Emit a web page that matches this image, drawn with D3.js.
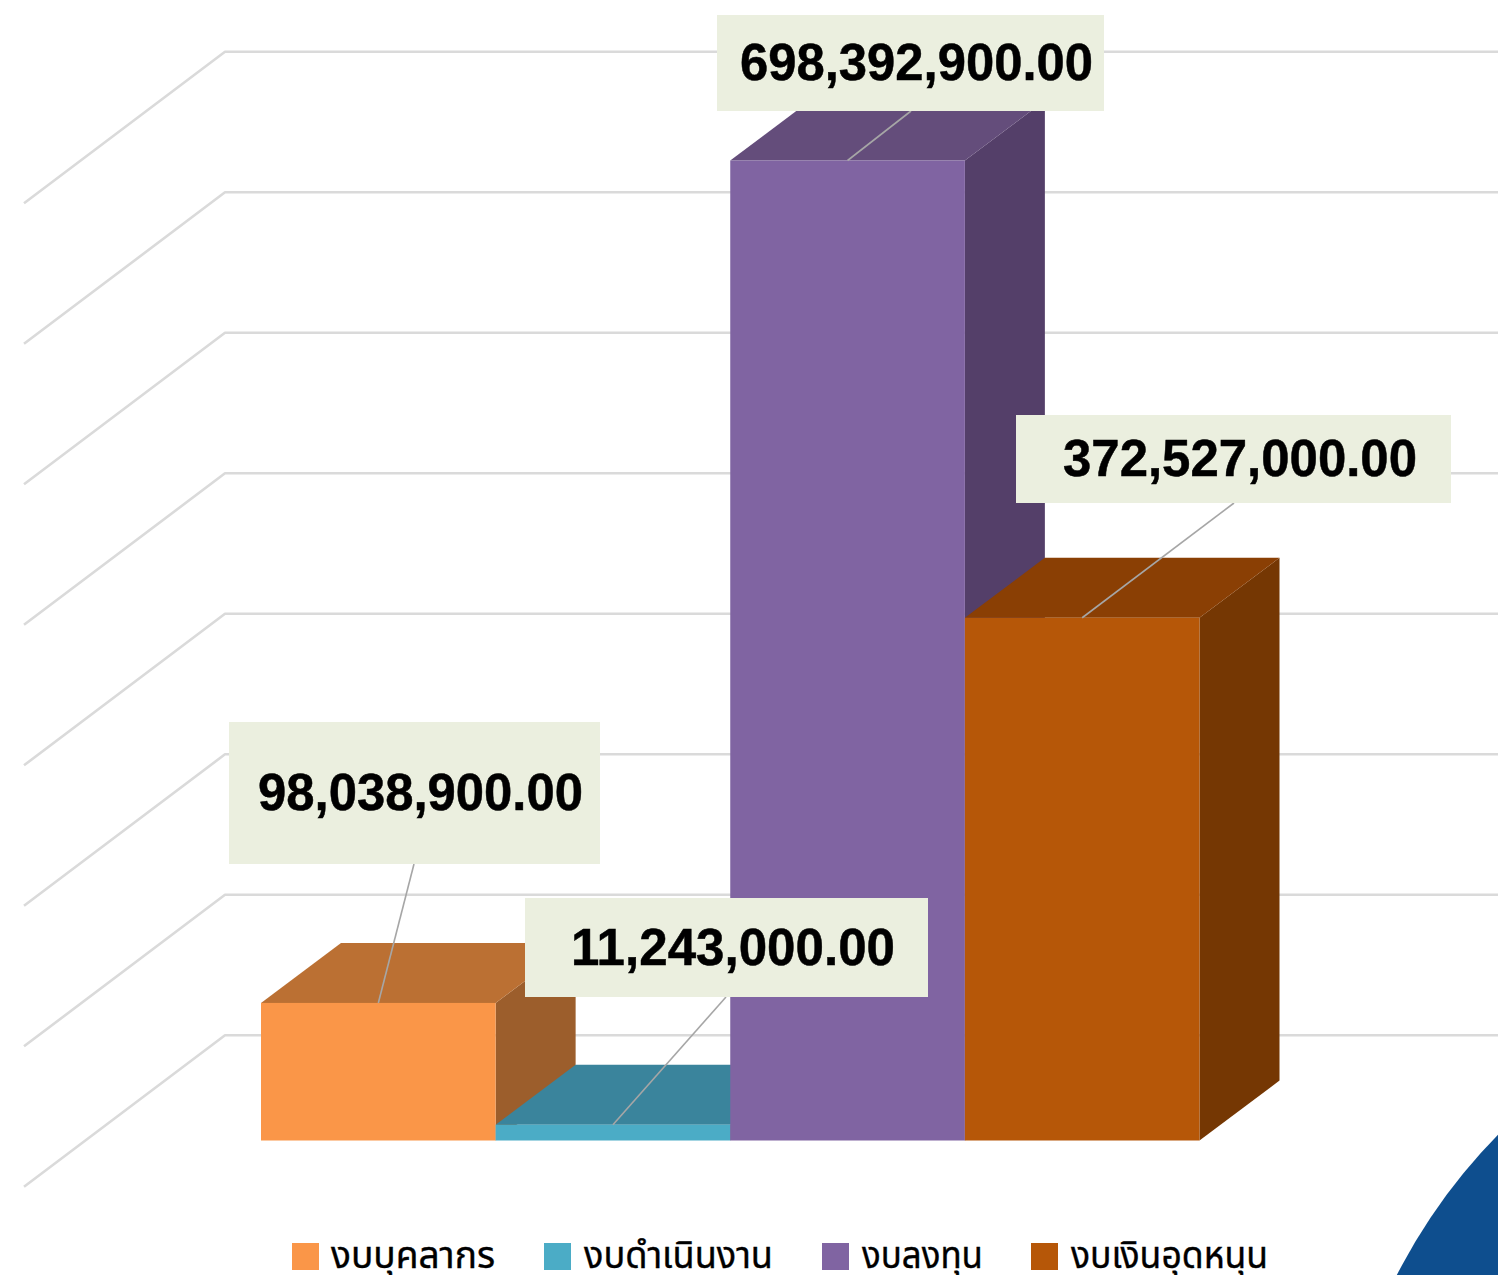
<!DOCTYPE html>
<html><head><meta charset="utf-8">
<script src="https://cdnjs.cloudflare.com/ajax/libs/d3/7.8.5/d3.min.js"></script>
<style>html,body{margin:0;padding:0;background:#fff;overflow:hidden}svg{display:block}</style>
</head><body><svg id="c" width="1498" height="1275"></svg>
<script>
const categories = ["งบบุคลากร","งบดำเนินงาน","งบลงทุน","งบเงินอุดหนุน"];
const values = [98038900, 11243000, 698392900, 372527000];
const gridTicks = [100e6,200e6,300e6,400e6,500e6,600e6,700e6,800e6];
const frontColors = ["#FA9648","#4BACC6","#8064A2","#B65708"];
const topColors = ["#BB7033","#3A849C","#644D7B","#8A3F04"];
const sideColors = ["#9C5E2C","#2F6D80","#543F69","#753703"];
const labelTexts = ["98,038,900.00","11,243,000.00","698,392,900.00","372,527,000.00"];
const labelBoxes = [[229,722,371,142,258,810,325],[525,898,403,99,571,965,324],[717,15,387,96,740,80,353],[1016,415,435,88,1063,476,354]];
const leaderEnds = [[414,864],[726,997],[911,111],[1234,503]];
const legendSwatchX = [292,544,822,1031];
const legendTextX = [331,584,862,1071];
const legendTextW = [164,189,121,197];

const svg = d3.select("#c");
const x = d3.scaleBand().domain(categories).range([261,1199.5]);
const y = d3.scaleLinear().domain([0,698392900]).range([1140.5,160.5]);
const gridY = d3.scaleLinear().domain([100e6,800e6]).range([1035.3,51.8]);
const dx = 80, dy = -60;

const g = svg.append("g").attr("fill","none").attr("stroke","#DADADA").attr("stroke-width",2.6);
gridTicks.forEach(t=>{
  const yy = gridY(t);
  g.append("path").attr("d",`M24,${yy+151.5}L225,${yy}L1498,${yy}`).attr("stroke-linejoin","round");
});

const bars = svg.append("g");
categories.forEach((c,i)=>{
  const x0 = x(c), x1 = x0+x.bandwidth(), y0 = y(0), y1 = y(values[i]);
  const p = bars.append("g");
  p.append("path").attr("fill",sideColors[i]).attr("d",`M${x1},${y1}L${x1+dx},${y1+dy}L${x1+dx},${y0+dy}L${x1},${y0}Z`);
  p.append("path").attr("fill",topColors[i]).attr("d",`M${x0},${y1}L${x0+dx},${y1+dy}L${x1+dx},${y1+dy}L${x1},${y1}Z`);
  p.append("rect").attr("fill",frontColors[i]).attr("x",x0).attr("y",y1).attr("width",x.bandwidth()).attr("height",y0-y1);
});

const lab = svg.append("g");
categories.forEach((c,i)=>{
  const cx = x(c)+x.bandwidth()/2, cy = y(values[i]);
  lab.append("line").attr("x1",cx).attr("y1",cy).attr("x2",leaderEnds[i][0]).attr("y2",leaderEnds[i][1]).attr("stroke","#A6A6A6").attr("stroke-width",1.6);
});
categories.forEach((c,i)=>{
  const b = labelBoxes[i];
  lab.append("rect").attr("x",b[0]).attr("y",b[1]).attr("width",b[2]).attr("height",b[3]).attr("fill","#EBEFDF");
  lab.append("text").attr("x",b[4]).attr("y",b[5]).attr("font-family","'Liberation Sans',Arial,sans-serif").attr("font-weight","bold").attr("font-size",52)
    .attr("textLength",b[6]).attr("lengthAdjust","spacingAndGlyphs").attr("fill","#000").attr("stroke","#000").attr("stroke-width",0.5).text(labelTexts[i]);
});

const leg = svg.append("g");
categories.forEach((c,i)=>{
  leg.append("rect").attr("x",legendSwatchX[i]).attr("y",1243).attr("width",27).attr("height",27).attr("fill",frontColors[i]);
  leg.append("text").attr("x",legendTextX[i]).attr("y",1268).attr("font-family","'Noto Sans','Noto Sans Thai','Liberation Sans','DejaVu Sans',sans-serif").attr("font-size",38)
    .attr("textLength",legendTextW[i]).attr("lengthAdjust","spacingAndGlyphs").attr("fill","#000").attr("stroke","#000").attr("stroke-width",0.4).text(c);
});

svg.append("circle").attr("cx",1904).attr("cy",1534.5).attr("r",569.7).attr("fill","#0E4E8E");
</script></body></html>
